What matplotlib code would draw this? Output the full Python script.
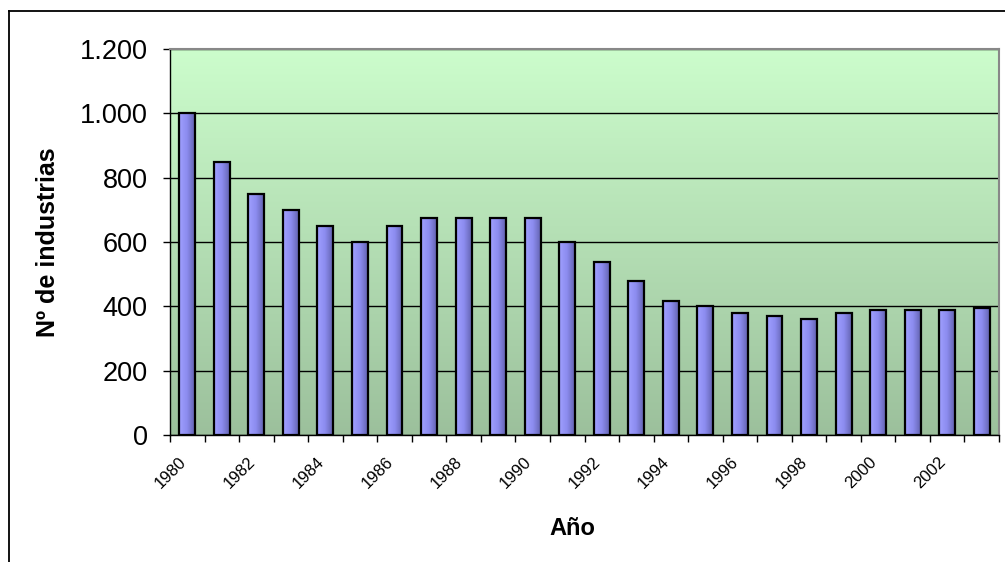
import numpy as np
import matplotlib
matplotlib.use("Agg")
import matplotlib.pyplot as plt
from matplotlib.colors import LinearSegmentedColormap
from matplotlib.ticker import FuncFormatter
from matplotlib.lines import Line2D
from matplotlib.transforms import ScaledTranslation

plt.rcParams['font.family'] = ['Liberation Sans', 'DejaVu Sans']

# número de industrias por año
years = list(range(1980, 2004))
industrias = [1000, 850, 750, 700, 650, 600, 650, 675, 675, 675, 675, 600,
              538, 480, 418, 402, 380, 370, 360, 380, 390, 390, 390, 395]
tick_years = [str(y) for y in years[::2]]

fig = plt.figure(figsize=(10.05, 5.62), dpi=100)
ax = fig.add_axes([170 / 1005, 1 - 435 / 562, 829 / 1005, 386 / 562])

x = np.arange(len(years))

# fondo degradado verde del área de trazado
bg = LinearSegmentedColormap.from_list('bg', ['#9cc09c', '#ccfdcc'])
grad = np.linspace(0, 1, 256).reshape(-1, 1)
ax.imshow(grad, cmap=bg, origin='lower', aspect='auto',
          extent=[-0.5, len(years) - 0.5, 0, 1200], zorder=0)

ax.yaxis.grid(True, color='black', linewidth=1.0, zorder=1)
ax.set_axisbelow(True)

bars = ax.bar(x, industrias, width=0.46, facecolor='none',
              edgecolor='black', linewidth=1.6, zorder=3)

# degradado horizontal de cada barra
barcmap = LinearSegmentedColormap.from_list('bar', ['#a0a0ff', '#8c8cf0', '#6464b0'])
hgrad = np.linspace(0, 1, 64).reshape(1, -1)
for b in bars:
    bx, bw, bh = b.get_x(), b.get_width(), b.get_height()
    ax.imshow(hgrad, cmap=barcmap, aspect='auto',
              extent=[bx, bx + bw, 0, bh], zorder=2)
ax.set_xlim(-0.5, len(years) - 0.5)
ax.set_ylim(0, 1200)

# ticks del eje x en los límites de categoría, etiquetas cada dos años
ax.set_xticks(np.arange(len(years) + 1) - 0.5)
ax.set_xticklabels([])
ax.set_xticks(x[::2], minor=True)
ax.set_xticklabels(tick_years, minor=True, rotation=45, ha='right', va='top',
                   rotation_mode='anchor', fontsize=12)
ax.tick_params(axis='x', which='major', direction='out', length=5, width=1)
ax.tick_params(axis='x', which='minor', length=0, pad=14)
offset = ScaledTranslation(-0.09, 0, fig.dpi_scale_trans)
for lbl in ax.get_xticklabels(minor=True):
    lbl.set_transform(lbl.get_transform() + offset)

ax.set_yticks(range(0, 1201, 200))
ax.yaxis.set_major_formatter(FuncFormatter(lambda v, p: f"{int(v):,}".replace(',', '.')))
ax.tick_params(axis='y', direction='out', length=5, width=1, pad=11, labelsize=19.5)

for side in ('top', 'right'):
    ax.spines[side].set_color('#888888')
    ax.spines[side].set_linewidth(1.5)
for side in ('left', 'bottom'):
    ax.spines[side].set_color('black')
    ax.spines[side].set_linewidth(1.0)

ax.set_ylabel('Nº de industrias', fontsize=18, fontweight='bold')
ax.yaxis.set_label_coords(-0.133, 0.5)
ax.set_xlabel('Año', fontsize=17, fontweight='bold')
ax.xaxis.set_label_coords(0.485, -0.212)

# marco exterior del gráfico
top = 1 - 10.5 / 562
left = 9 / 1005
fig.add_artist(Line2D([left, 1.0], [top, top], color='black', lw=1.3))
fig.add_artist(Line2D([left, left], [0, top], color='black', lw=1.3))

fig.savefig('out.png', dpi=100)
